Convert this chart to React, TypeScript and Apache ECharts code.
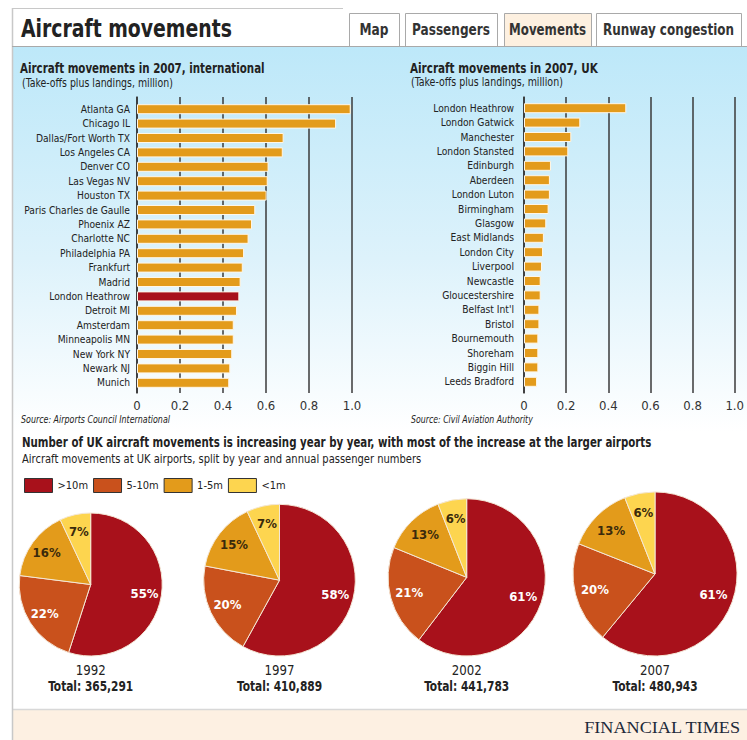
import React, { useEffect, useRef } from "react";
import * as echarts from "echarts";

// ---------- DATA ----------
const intlAirports = [
  "Atlanta GA", "Chicago IL", "Dallas/Fort Worth TX", "Los Angeles CA", "Denver CO",
  "Las Vegas NV", "Houston TX", "Paris Charles de Gaulle", "Phoenix AZ", "Charlotte NC",
  "Philadelphia PA", "Frankfurt", "Madrid", "London Heathrow", "Detroit MI",
  "Amsterdam", "Minneapolis MN", "New York NY", "Newark NJ", "Munich",
];
const intlMovements = [
  0.994, 0.926, 0.682, 0.678, 0.612, 0.608, 0.603, 0.55, 0.535, 0.519,
  0.498, 0.492, 0.482, 0.476, 0.465, 0.45, 0.45, 0.443, 0.434, 0.429,
];
const highlightAirport = "London Heathrow";

const ukAirports = [
  "London Heathrow", "London Gatwick", "Manchester", "London Stansted", "Edinburgh",
  "Aberdeen", "London Luton", "Birmingham", "Glasgow", "East Midlands",
  "London City", "Liverpool", "Newcastle", "Gloucestershire", "Belfast Int'l",
  "Bristol", "Bournemouth", "Shoreham", "Biggin Hill", "Leeds Bradford",
];
const ukMovements = [
  0.478, 0.263, 0.221, 0.207, 0.126, 0.121, 0.121, 0.115, 0.104, 0.093,
  0.089, 0.084, 0.078, 0.078, 0.072, 0.072, 0.067, 0.067, 0.067, 0.061,
];

const xTickLabels = ["0", "0.2", "0.4", "0.6", "0.8", "1.0"];

const sizeBands = [">10m", "5-10m", "1-5m", "<1m"];
const years = ["1992", "1997", "2002", "2007"];
const totals = [365291, 410889, 441783, 480943];
const share1992 = [55, 22, 16, 7];
const share1997 = [58, 20, 15, 7];
const share2002 = [61, 21, 13, 6];
const share2007 = [61, 20, 13, 6];
const shares = [share1992, share1997, share2002, share2007];

// ---------- STYLE ----------
const FONT = '"Liberation Sans Narrow", "Arial Narrow", "DejaVu Sans Condensed", sans-serif';
const SERIF = '"Liberation Serif", "DejaVu Serif", serif';
const BAR_COLOR = "#E39B1B";
const HIGHLIGHT_COLOR = "#A8111B";
const BAND_COLORS = ["#A8111B", "#C9511C", "#E39B1B", "#FDD54F"];
const LABEL_COLORS = ["#ffffff", "#ffffff", "#3a2a0c", "#3a2a0c"];
const TEXT = "#222";
const pieCentersX = [90.7, 279.5, 466.7, 655];
const pieBottom = 656;
const baseRadius = 71.5;

let measureCtx: CanvasRenderingContext2D | null = null;
function textWidth(text: string, size: number, weight: string, style: string, family: string) {
  if (!measureCtx) measureCtx = document.createElement("canvas").getContext("2d");
  if (!measureCtx) return 0;
  measureCtx.font = `${style} ${weight} ${size}px ${family}`;
  return measureCtx.measureText(text).width;
}

export default function App() {
  const ref = useRef<HTMLDivElement>(null);

  useEffect(() => {
    document.body.style.margin = "0";
    if (!ref.current) return;
    const chart = echarts.init(ref.current, undefined, { renderer: "svg" });

    const tickFmt = (v: number) => xTickLabels[Math.round(v / 0.2)] ?? "";

    // text fitted to a target width by horizontal scaling (narrow typeface look)
    const txt = (
      x: number, y: number, text: string, size: number, target: number,
      opts: { weight?: string; italic?: boolean; align?: string; family?: string; fill?: string } = {}
    ) => {
      const weight = opts.weight ?? "normal";
      const fstyle = opts.italic ? "italic" : "normal";
      const family = opts.family ?? FONT;
      const w = textWidth(text, size, weight, fstyle, family);
      const s = w > 0 ? target / w : 1;
      return {
        type: "text",
        x, y,
        scaleX: s,
        scaleY: 1,
        style: {
          text, fontFamily: family, fontSize: size, fontWeight: weight, fontStyle: fstyle,
          fill: opts.fill ?? TEXT, textAlign: opts.align ?? "left", textVerticalAlign: "middle",
        },
      };
    };

    const radii = totals.map((t) => baseRadius * Math.sqrt(t / totals[0]));

    const pieSeries: any[] = [];
    shares.forEach((s, i) => {
      const r = radii[i];
      const cy = pieBottom - r;
      pieSeries.push({
        type: "pie",
        center: [pieCentersX[i], cy],
        radius: [0, r],
        startAngle: 90,
        clockwise: true,
        silent: true,
        label: { show: false },
        labelLine: { show: false },
        itemStyle: { borderColor: "#f4e7d6", borderWidth: 1 },
        data: s.map((v, k) => ({
          name: sizeBands[k],
          value: v,
          itemStyle: { color: BAND_COLORS[k] },
        })),
      });
      pieSeries.push({
        type: "pie",
        center: [pieCentersX[i], cy],
        radius: [r * 0.44, r],
        startAngle: 90,
        clockwise: true,
        silent: true,
        labelLine: { show: false },
        itemStyle: { color: "rgba(0,0,0,0)", borderWidth: 0 },
        data: s.map((v, k) => ({
          name: sizeBands[k],
          value: v,
          label: {
            show: true,
            position: "inside",
            formatter: "{c}%",
            color: LABEL_COLORS[k],
            fontFamily: FONT,
            fontWeight: "bold",
            fontSize: 13,
          },
        })),
      });
    });

    const yearTexts: any[] = [];
    years.forEach((y, i) => {
      yearTexts.push(txt(pieCentersX[i], 670, y, 14, 30, { align: "center" }));
      yearTexts.push(
        txt(pieCentersX[i], 686, "Total: " + totals[i].toLocaleString("en-US"), 14, 85, { weight: "bold", align: "center" })
      );
    });

    const tabs = [
      { label: "Map", x0: 349, x1: 399, tw: 29, active: false },
      { label: "Passengers", x0: 405, x1: 497, tw: 78, active: false },
      { label: "Movements", x0: 504, x1: 591, tw: 77, active: true },
      { label: "Runway congestion", x0: 596, x1: 741, tw: 131, active: false },
    ];
    const tabEls: any[] = [];
    tabs.forEach((t) => {
      tabEls.push({
        type: "rect",
        z: -5,
        shape: { x: t.x0 + 0.5, y: 13.5, width: t.x1 - t.x0, height: 33 },
        style: { fill: t.active ? "#FDF0E0" : "#ffffff", stroke: "#a9a9a9", lineWidth: 1 },
      });
      tabEls.push(txt((t.x0 + t.x1) / 2, 30, t.label, 15, t.tw, { weight: "bold", align: "center", fill: "#333" }));
    });

    const option: any = {
      animation: false,
      backgroundColor: "#ffffff",
      legend: {
        left: 24,
        top: 478,
        padding: 0,
        itemWidth: 28,
        itemHeight: 14,
        itemGap: 5,
        icon: "rect",
        selectedMode: false,
        textStyle: { fontFamily: FONT, fontSize: 11, color: TEXT },
        data: sizeBands.map((b, k) => ({
          name: b,
          itemStyle: { color: BAND_COLORS[k], borderColor: "#333", borderWidth: 1 },
        })),
      },
      grid: [
        { left: 137, width: 215, top: 102, height: 288, containLabel: false },
        { left: 524, width: 214, top: 101, height: 288, containLabel: false },
        { left: 137, width: 215, top: 97, height: 296, containLabel: false },
        { left: 524, width: 214, top: 97, height: 296, containLabel: false },
      ],
      xAxis: [
        { gridIndex: 0, type: "value", min: 0, max: 1, interval: 0.2, show: false },
        { gridIndex: 1, type: "value", min: 0, max: 1, interval: 0.2, show: false },
        {
          gridIndex: 2, type: "value", min: 0, max: 1, interval: 0.2,
          axisLine: { show: false }, axisTick: { show: false },
          splitLine: { show: true, lineStyle: { color: "#3a3a3a", width: 1.5 } },
          axisLabel: { formatter: tickFmt, fontFamily: FONT, fontSize: 13, color: "#333", margin: 6 },
        },
        {
          gridIndex: 3, type: "value", min: 0, max: 1, interval: 0.2,
          axisLine: { show: false }, axisTick: { show: false },
          splitLine: { show: true, lineStyle: { color: "#3a3a3a", width: 1.5 } },
          axisLabel: { formatter: tickFmt, fontFamily: FONT, fontSize: 13, color: "#333", margin: 6 },
        },
      ],
      yAxis: [
        {
          gridIndex: 0, type: "category", inverse: true, data: intlAirports,
          axisLine: { show: false }, axisTick: { show: false }, splitLine: { show: false },
          axisLabel: { interval: 0, fontFamily: FONT, fontSize: 10.2, color: TEXT, margin: 7 },
        },
        {
          gridIndex: 1, type: "category", inverse: true, data: ukAirports,
          axisLine: { show: false }, axisTick: { show: false }, splitLine: { show: false },
          axisLabel: { interval: 0, fontFamily: FONT, fontSize: 10.2, color: TEXT, margin: 10 },
        },
        {
          gridIndex: 2, type: "value", min: 0, max: 1,
          axisLine: { show: true, lineStyle: { color: "#333", width: 1.5 } },
          axisTick: { show: false }, axisLabel: { show: false }, splitLine: { show: false },
        },
        {
          gridIndex: 3, type: "value", min: 0, max: 1,
          axisLine: { show: true, lineStyle: { color: "#333", width: 1.5 } },
          axisTick: { show: false }, axisLabel: { show: false }, splitLine: { show: false },
        },
      ],
      series: [
        {
          type: "bar",
          xAxisIndex: 0,
          yAxisIndex: 0,
          barWidth: 10,
          silent: true,
          data: intlMovements.map((v, i) => ({
            value: v,
            itemStyle: { color: intlAirports[i] === highlightAirport ? HIGHLIGHT_COLOR : BAR_COLOR },
          })),
          itemStyle: { borderColor: "#fff6e6", borderWidth: 1 },
        },
        {
          type: "bar",
          xAxisIndex: 1,
          yAxisIndex: 1,
          barWidth: 10,
          silent: true,
          data: ukMovements,
          itemStyle: { color: BAR_COLOR, borderColor: "#fff6e6", borderWidth: 1 },
        },
        ...pieSeries,
      ],
      graphic: {
        elements: [
          // blue gradient panel
          {
            type: "rect", z: -10,
            shape: { x: 12, y: 47, width: 735, height: 385 },
            style: {
              fill: {
                type: "linear", x: 0, y: 0, x2: 0, y2: 1,
                colorStops: [
                  { offset: 0, color: "#BDE8F9" },
                  { offset: 0.55, color: "#DDF2FB" },
                  { offset: 1, color: "#ffffff" },
                ],
              },
            },
          },
          // footer
          { type: "rect", z: -10, shape: { x: 12, y: 710, width: 735, height: 30 }, style: { fill: "#FDF0E2" } },
          { type: "line", z: -4, shape: { x1: 12, y1: 709.5, x2: 747, y2: 709.5 }, style: { stroke: "#d8d8d8", lineWidth: 1.5 } },
          // header box lines
          { type: "line", z: -4, shape: { x1: 12.5, y1: 8, x2: 12.5, y2: 740 }, style: { stroke: "#c8c8c8", lineWidth: 1.5 } },
          { type: "line", z: -4, shape: { x1: 12, y1: 8.5, x2: 343, y2: 8.5 }, style: { stroke: "#c8c8c8", lineWidth: 1 } },
          ...tabEls,
          { type: "line", z: -4, shape: { x1: 12, y1: 46.5, x2: 747, y2: 46.5 }, style: { stroke: "#a9a9a9", lineWidth: 1 } },
          txt(21, 28, "Aircraft movements", 25, 211, { weight: "bold" }),
          // bar chart titles
          txt(20, 68, "Aircraft movements in 2007, international", 14, 245, { weight: "bold" }),
          txt(22, 83, "(Take-offs plus landings, million)", 12, 151),
          txt(410, 68, "Aircraft movements in 2007, UK", 14, 188, { weight: "bold" }),
          txt(411, 82, "(Take-offs plus landings, million)", 12, 152),
          txt(21, 419, "Source: Airports Council International", 11, 149, { italic: true }),
          txt(411, 419, "Source: Civil Aviation Authority", 11, 122, { italic: true }),
          // lower section
          txt(22, 442, "Number of UK aircraft movements is increasing year by year, with most of the increase at the larger airports", 14, 630, { weight: "bold" }),
          txt(22, 459, "Aircraft movements at UK airports, split by year and annual passenger numbers", 12, 400),
          ...yearTexts,
          txt(740, 727, "FINANCIAL TIMES", 17, 157, { align: "right", family: SERIF, fill: "#1d2a3a" }),
        ],
      },
    };

    chart.setOption(option);
    return () => chart.dispose();
  }, []);

  return <div ref={ref} style={{ width: 747, height: 740 }} />;
}
